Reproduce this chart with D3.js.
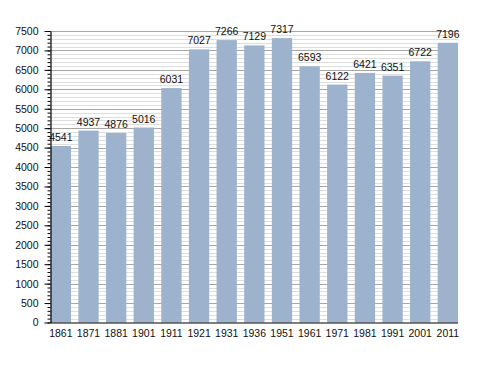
<!DOCTYPE html>
<html>
<head>
<meta charset="utf-8">
<script src="https://cdn.jsdelivr.net/npm/d3@7"></script>
<style>
  html, body { margin: 0; padding: 0; background: #fff; }
  svg { display: block; font-family: "Liberation Sans", Arial, sans-serif; }
</style>
</head>
<body>
<svg id="chart" width="488" height="373"></svg>
<script>
var years = ['1861', '1871', '1881', '1901', '1911', '1921', '1931', '1936', '1951', '1961', '1971', '1981', '1991', '2001', '2011'];
var population = [4541, 4937, 4876, 5016, 6031, 7027, 7266, 7129, 7317, 6593, 6122, 6421, 6351, 6722, 7196];
var majorTicks = d3.range(0, 7501, 500);
var minorTicks = d3.range(0, 7501, 100);

(function () {
  'use strict';

  var svg = d3.select('#chart');
  var plotLeft = 50.5, plotRight = 458, plotTop = 31, plotBottom = 322.5;

  var x = d3.scaleBand().domain(years).range([plotLeft + 0.2, plotRight]).paddingInner(0.265).paddingOuter(0);
  var y = d3.scaleLinear().domain([0, 7500]).range([plotBottom, plotTop]);

  function gy(d) { return Math.round(y(d)) + 0.5; }

  // minor gridlines
  svg.append('g').selectAll('line')
    .data(minorTicks.filter(function (d) { return d % 500 !== 0; }))
    .enter().append('line')
    .attr('x1', plotLeft).attr('x2', plotRight)
    .attr('y1', gy).attr('y2', gy)
    .attr('stroke', '#dedede').attr('stroke-width', 1);

  // major gridlines
  svg.append('g').selectAll('line')
    .data(majorTicks.filter(function (d) { return d > 0; }))
    .enter().append('line')
    .attr('x1', plotLeft).attr('x2', plotRight)
    .attr('y1', gy).attr('y2', gy)
    .attr('stroke', '#a6a6a6').attr('stroke-width', 1);

  // bars
  svg.append('g').selectAll('rect')
    .data(population)
    .enter().append('rect')
    .attr('x', function (d, i) { return x(years[i]); })
    .attr('width', x.bandwidth())
    .attr('y', function (d) { return y(d); })
    .attr('height', function (d) { return y(0) - y(d); })
    .attr('fill', '#9db3cd');

  // value labels
  svg.append('g').selectAll('text')
    .data(population)
    .enter().append('text')
    .attr('x', function (d, i) { return x(years[i]) + x.bandwidth() / 2; })
    .attr('y', function (d) { return y(d) - 5; })
    .attr('text-anchor', 'middle')
    .attr('font-size', '10.5px')
    .attr('fill', '#111')
    .text(function (d) { return d; });

  // y axis minor ticks
  var yAxisMinor = d3.axisLeft(y).tickValues(minorTicks).tickSize(3).tickFormat('');
  svg.append('g')
    .attr('transform', 'translate(' + plotLeft + ',0)')
    .call(yAxisMinor)
    .call(function (g) { g.select('.domain').remove(); })
    .selectAll('line').attr('stroke', '#000');

  // y axis major ticks + labels
  var yAxis = d3.axisLeft(y).tickValues(majorTicks).tickSize(6).tickPadding(6).tickSizeOuter(0).tickFormat(d3.format('d'));
  var ya = svg.append('g')
    .attr('transform', 'translate(' + plotLeft + ',0)')
    .call(yAxis);
  ya.select('.domain').attr('stroke', '#000').attr('stroke-width', 1.2);
  ya.selectAll('line').attr('stroke', '#000');
  ya.selectAll('text').attr('font-size', '10.5px').attr('fill', '#111')
    .attr('font-family', '"Liberation Sans", Arial, sans-serif');

  // x axis
  var xAxis = d3.axisBottom(x).tickSize(0).tickPadding(7).tickSizeOuter(0);
  var xa = svg.append('g')
    .attr('transform', 'translate(0,' + (plotBottom + 0.5) + ')')
    .call(xAxis);
  xa.select('.domain').attr('stroke', '#000').attr('stroke-width', 1.2)
    .attr('d', 'M' + plotLeft + ',0H' + plotRight);
  xa.selectAll('text').attr('font-size', '10.5px').attr('fill', '#111')
    .attr('font-family', '"Liberation Sans", Arial, sans-serif');
})();
</script>
</body>
</html>
